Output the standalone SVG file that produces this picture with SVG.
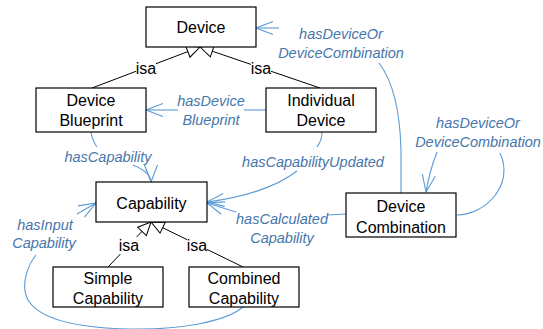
<svg xmlns="http://www.w3.org/2000/svg" width="543" height="329" viewBox="0 0 543 329">
<defs>
<style>
.box{fill:#fff;stroke:#000;stroke-width:1.2}
.nt{font-family:"Liberation Sans",Arial,sans-serif;font-size:16px;fill:#000;text-anchor:middle}
.isa{stroke:#000;stroke-width:1;fill:none}
.rel{stroke:#5b9bd5;stroke-width:1.1;fill:none}
.lt{font-family:"Liberation Sans",Arial,sans-serif;font-size:14.5px;font-style:italic;fill:#4676ab;text-anchor:middle}
.bg{fill:#fff}
</style>
<marker id="gen" markerUnits="userSpaceOnUse" viewBox="-15 -8 16 16" markerWidth="16" markerHeight="16" refX="0" refY="0" orient="auto">
<path d="M0,0 L-13,-6 L-13,6 Z" fill="#fff" stroke="#000" stroke-width="1"/>
</marker>
<marker id="arr" markerUnits="userSpaceOnUse" viewBox="-19 -8 20 16" markerWidth="20" markerHeight="16" refX="0" refY="0" orient="auto">
<path d="M-17,-6.5 L0,0 L-17,6.5" fill="none" stroke="#5b9bd5" stroke-width="1.1"/>
</marker>
</defs>
<rect width="543" height="329" fill="#fff"/>
<g id="connectors">
<line class="isa" x1="92" y1="88" x2="200" y2="47" marker-end="url(#gen)"/>
<line class="isa" x1="320" y1="88" x2="200" y2="47" marker-end="url(#gen)"/>
<line class="isa" x1="108" y1="267" x2="151" y2="222" marker-end="url(#gen)"/>
<line class="isa" x1="243" y1="267" x2="151" y2="222" marker-end="url(#gen)"/>
<rect class="bg" x="136" y="60" width="20" height="17"/>
<rect class="bg" x="251" y="60" width="20" height="17"/>
<rect class="bg" x="119" y="237" width="20" height="17"/>
<rect class="bg" x="187" y="237" width="20" height="17"/>
<text class="nt" x="146" y="74">isa</text>
<text class="nt" x="261" y="74">isa</text>
<text class="nt" x="129" y="251">isa</text>
<text class="nt" x="197" y="251">isa</text>
<path class="rel" d="M266,110 L244,110"/>
<path class="rel" d="M178,110 L146,110" marker-end="url(#arr)"/>
<path class="rel" d="M91,132 C92,138 94,143 97,147"/>
<path class="rel" d="M133,165 C145,170 151,175 151,182" marker-end="url(#arr)"/>
<path class="rel" d="M322,132 C322,138 320,143 317,147"/>
<path class="rel" d="M297,171 C275,188 240,198 207,202" marker-end="url(#arr)"/>
<path class="rel" d="M346,214 L327,215"/>
<path class="rel" d="M236,212 L207,203" marker-end="url(#arr)"/>
<path class="rel" d="M243,307 C225,322 180,330 130,329 C80,328 40,320 28,300 C20,285 28,265 36,255"/>
<path class="rel" d="M77,214 L96,203" marker-end="url(#arr)"/>
<path class="rel" d="M379,63 C392,80 400,110 401,150 L401,193"/>
<path class="rel" d="M279,28 L256,28" marker-end="url(#arr)"/>
<path class="rel" d="M457,215 C485,215 515,185 500,153"/>
<path class="rel" d="M437,152 C432,165 428,180 426,192" marker-end="url(#arr)"/>
</g>
<g id="labels">
<text class="lt" x="211" y="106">hasDevice</text>
<text class="lt" x="211" y="125">Blueprint</text>
<text class="lt" x="108" y="162">hasCapability</text>
<text class="lt" x="313" y="167">hasCapabilityUpdated</text>
<text class="lt" x="282" y="224">hasCalculated</text>
<text class="lt" x="282" y="243">Capability</text>
<text class="lt" x="45" y="230">hasInput</text>
<text class="lt" x="44" y="248">Capability</text>
<text class="lt" x="341" y="39">hasDeviceOr</text>
<text class="lt" x="341" y="58">DeviceCombination</text>
<text class="lt" x="478" y="128">hasDeviceOr</text>
<text class="lt" x="478" y="147">DeviceCombination</text>
</g>
<g id="device">
<rect class="box" x="146" y="7" width="110" height="40"/>
<text class="nt" x="201" y="33">Device</text>
</g>
<g id="device-blueprint">
<rect class="box" x="36" y="88" width="110" height="44"/>
<text class="nt" x="91" y="105.5">Device</text>
<text class="nt" x="91" y="125.5">Blueprint</text>
</g>
<g id="individual-device">
<rect class="box" x="266" y="88" width="110" height="44"/>
<text class="nt" x="321" y="105.5">Individual</text>
<text class="nt" x="321" y="125.5">Device</text>
</g>
<g id="capability">
<rect class="box" x="96" y="182" width="111" height="40"/>
<text class="nt" x="151.5" y="209">Capability</text>
</g>
<g id="simple-capability">
<rect class="box" x="53" y="267" width="110" height="40"/>
<text class="nt" x="108" y="283.5">Simple</text>
<text class="nt" x="108" y="304">Capability</text>
</g>
<g id="combined-capability">
<rect class="box" x="189" y="267" width="110" height="40"/>
<text class="nt" x="244" y="283.5">Combined</text>
<text class="nt" x="244" y="304">Capability</text>
</g>
<g id="device-combination">
<rect class="box" x="346" y="193" width="110" height="44"/>
<text class="nt" x="401" y="211.5">Device</text>
<text class="nt" x="401" y="232.5">Combination</text>
</g>
</svg>
